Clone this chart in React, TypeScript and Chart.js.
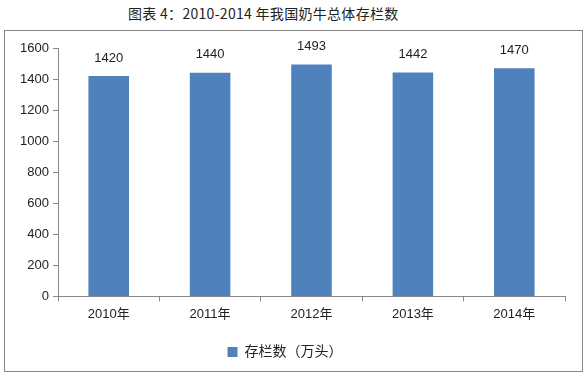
import React, { useEffect, useRef } from "react";
import { Chart, registerables } from "chart.js";

Chart.register(...registerables);

const categories = ["2010年", "2011年", "2012年", "2013年", "2014年"];
const values = [1420, 1440, 1493, 1442, 1470];
const seriesName = "存栏数（万头）";
const titleText = "图表 4：2010-2014 年我国奶牛总体存栏数";
const yMin = 0;
const yMax = 1600;
const yStep = 200;

const FONT = "'Liberation Sans', 'Noto Sans CJK SC', sans-serif";

const valueLabels = {
  id: "valueLabels",
  afterDatasetsDraw(chart: any) {
    const ctx = chart.ctx;
    const meta = chart.getDatasetMeta(0);
    ctx.save();
    ctx.font = `13px ${FONT}`;
    ctx.fillStyle = "#222";
    ctx.textAlign = "center";
    ctx.textBaseline = "middle";
    meta.data.forEach((bar: any, i: number) => {
      ctx.fillText(String(chart.data.datasets[0].data[i]), bar.x, bar.y - 18);
    });
    ctx.restore();
  },
};

export default function App() {
  const ref = useRef<HTMLCanvasElement>(null);
  useEffect(() => {
    document.body.style.margin = "0";
    const chart = new Chart(ref.current!, {
      type: "bar",
      data: {
        labels: categories,
        datasets: [
          {
            label: seriesName,
            data: values,
            backgroundColor: "#4F81BD",
            barPercentage: 0.4,
            categoryPercentage: 1,
          },
        ],
      },
      options: {
        animation: false,
        responsive: false,
        layout: { padding: { left: 0, right: 17, top: 17, bottom: 2 } },
        plugins: {
          title: { display: false },
          tooltip: { enabled: false },
          legend: {
            position: "bottom",
            labels: {
              boxWidth: 10,
              boxHeight: 10,
              color: "#222",
              font: { family: FONT, size: 14 },
              padding: 18,
            },
          },
        },
        scales: {
          x: {
            grid: {
              offset: true,
              drawOnChartArea: false,
              drawTicks: true,
              tickLength: 5,
              color: "#888",
            },
            border: { color: "#888" },
            ticks: {
              color: "#222",
              font: { family: FONT, size: 13 },
              padding: 5,
            },
          },
          y: {
            min: yMin,
            max: yMax,
            grid: {
              drawOnChartArea: false,
              drawTicks: true,
              tickLength: 5,
              color: "#888",
            },
            border: { color: "#888" },
            ticks: {
              stepSize: yStep,
              color: "#222",
              font: { family: FONT, size: 13 },
              padding: 4,
              callback: (v: any) => String(v),
            },
            afterFit(scale: any) {
              scale.width = 53;
            },
          },
        },
      },
      plugins: [valueLabels],
    });
    return () => chart.destroy();
  }, []);

  return (
    <div style={{ position: "relative", width: 584, height: 381, background: "#fff", fontFamily: FONT }}>
      <div
        style={{
          position: "absolute",
          left: 128,
          top: 3,
          whiteSpace: "pre",
          fontSize: 14,
          letterSpacing: 0.3,
          color: "#222",
          fontFamily: "'Noto Sans CJK SC', sans-serif",
        }}
      >
        {titleText}
      </div>
      <div
        style={{
          position: "absolute",
          left: 4,
          top: 30,
          width: 577,
          height: 340,
          border: "1px solid #888",
        }}
      >
        <canvas ref={ref} width={577} height={340} />
      </div>
    </div>
  );
}
